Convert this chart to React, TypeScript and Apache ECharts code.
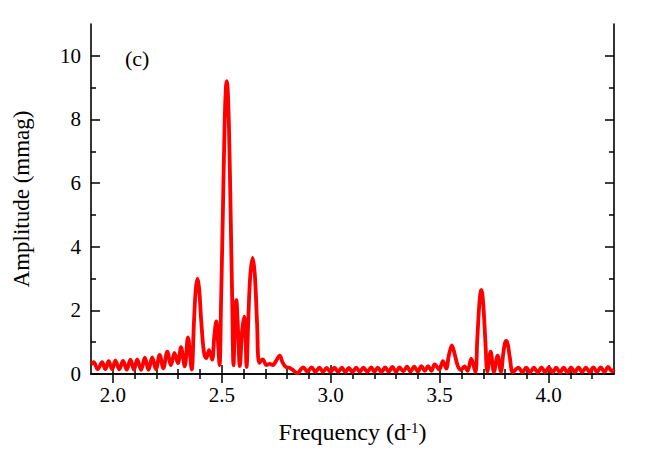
import React, { useEffect, useRef } from "react";
import * as echarts from "echarts";

const frequency = [
  1.900, 1.912, 1.931, 1.951, 1.966, 1.981, 1.997, 2.012, 2.030, 2.047, 2.064, 2.081, 2.097, 2.112, 2.130, 2.147,
  2.164, 2.181, 2.198, 2.215, 2.232, 2.250, 2.267, 2.283, 2.299, 2.313, 2.330, 2.345, 2.362, 2.372, 2.380, 2.388,
  2.396, 2.406, 2.418, 2.429, 2.442, 2.456, 2.466, 2.475, 2.482, 2.490, 2.497, 2.505, 2.513, 2.519, 2.523, 2.527,
  2.533, 2.541, 2.548, 2.554, 2.561, 2.567, 2.574, 2.583, 2.593, 2.603, 2.609, 2.614, 2.622, 2.631, 2.642, 2.652,
  2.662, 2.672, 2.688, 2.705, 2.720, 2.735, 2.750, 2.766, 2.780, 2.794, 2.810, 2.826, 2.846, 2.874, 2.893, 2.912,
  2.930, 2.948, 2.965, 2.981, 2.999, 3.017, 3.034, 3.051, 3.067, 3.083, 3.100, 3.117, 3.133, 3.150, 3.168, 3.186,
  3.201, 3.216, 3.233, 3.250, 3.266, 3.283, 3.300, 3.316, 3.333, 3.350, 3.366, 3.383, 3.400, 3.416, 3.432, 3.447,
  3.462, 3.477, 3.498, 3.515, 3.530, 3.542, 3.556, 3.569, 3.584, 3.598, 3.614, 3.628, 3.645, 3.664, 3.672, 3.680,
  3.686, 3.691, 3.696, 3.702, 3.710, 3.719, 3.734, 3.749, 3.766, 3.781, 3.792, 3.800, 3.806, 3.813, 3.822, 3.836,
  3.862, 3.880, 3.897, 3.915, 3.932, 3.950, 3.967, 3.984, 4.001, 4.018, 4.035, 4.052, 4.069, 4.086, 4.103, 4.120,
  4.137, 4.154, 4.171, 4.188, 4.205, 4.222, 4.239, 4.256, 4.273, 4.290, 4.300,
];

const amplitude = [
  0.30, 0.37, 0.15, 0.37, 0.15, 0.40, 0.15, 0.42, 0.15, 0.41, 0.14, 0.45, 0.14, 0.46, 0.13, 0.51,
  0.13, 0.52, 0.15, 0.60, 0.18, 0.70, 0.28, 0.66, 0.34, 0.84, 0.24, 1.15, 0.14, 1.55, 2.60, 3.00,
  2.70, 1.65, 0.70, 0.50, 0.75, 0.45, 1.20, 1.65, 1.10, 0.28, 2.30, 5.00, 7.80, 9.00, 9.20, 9.00,
  7.80, 5.00, 2.30, 0.28, 1.60, 2.32, 1.50, 0.25, 1.30, 1.80, 1.20, 0.22, 1.75, 3.10, 3.65, 3.10,
  1.60, 0.35, 0.46, 0.28, 0.32, 0.28, 0.42, 0.58, 0.35, 0.22, 0.20, 0.13, 0.03, 0.21, 0.07, 0.21,
  0.07, 0.20, 0.07, 0.19, 0.07, 0.20, 0.07, 0.20, 0.06, 0.19, 0.06, 0.20, 0.07, 0.20, 0.07, 0.21,
  0.07, 0.20, 0.06, 0.21, 0.07, 0.22, 0.07, 0.21, 0.08, 0.23, 0.08, 0.23, 0.08, 0.25, 0.10, 0.25,
  0.10, 0.30, 0.14, 0.40, 0.17, 0.58, 0.90, 0.62, 0.24, 0.13, 0.24, 0.10, 0.48, 0.06, 1.00, 2.00,
  2.50, 2.64, 2.50, 2.00, 1.00, 0.08, 0.70, 0.07, 0.58, 0.07, 0.65, 0.98, 1.04, 0.92, 0.52, 0.06,
  0.20, 0.05, 0.20, 0.05, 0.20, 0.05, 0.21, 0.05, 0.21, 0.05, 0.20, 0.05, 0.20, 0.05, 0.21, 0.05,
  0.21, 0.06, 0.20, 0.06, 0.21, 0.06, 0.21, 0.06, 0.22, 0.08, 0.15,
];

const xMajorTicks = [2.0, 2.5, 3.0, 3.5, 4.0];
const xMinorTicks = [2.1, 2.2, 2.3, 2.4, 2.6, 2.7, 2.8, 2.9, 3.1, 3.2, 3.3, 3.4, 3.6, 3.7, 3.8, 3.9, 4.1, 4.2];
const yMajorTicks = [0, 2, 4, 6, 8, 10];
const yMinorTicks = [1, 3, 5, 7, 9];

const X_MIN = 1.9;
const X_MAX = 4.3;
const Y_MIN = 0;
const Y_MAX = 11;
const panelLabel = "(c)";

const FONT = "'Liberation Serif', 'Times New Roman', serif";

export default function App() {
  const ref = useRef<HTMLDivElement>(null);

  useEffect(() => {
    document.body.style.margin = "0";
    if (!ref.current) return;
    const chart = echarts.init(ref.current, null, { renderer: "svg" });

    const axisLine = { show: true, lineStyle: { color: "#000", width: 1.6 } };
    const mkX = (pos: "top" | "bottom", major: boolean, withLabels: boolean, extra: any = {}) => ({
      type: "value",
      min: X_MIN,
      max: X_MAX,
      position: pos,
      gridIndex: 0,
      axisLine: major ? axisLine : { show: false },
      axisTick: {
        show: true,
        inside: true,
        length: major ? 9 : 5,
        lineStyle: { color: "#000", width: 1.5 },
        customValues: major ? xMajorTicks : xMinorTicks,
      },
      axisLabel: withLabels
        ? {
            show: true,
            customValues: xMajorTicks,
            formatter: (v: number) => v.toFixed(1),
            fontFamily: FONT,
            fontSize: 21,
            color: "#000",
            margin: 10,
          }
        : { show: false },
      splitLine: { show: false },
      ...extra,
    });
    const mkY = (pos: "left" | "right", major: boolean, withLabels: boolean, extra: any = {}) => ({
      type: "value",
      min: Y_MIN,
      max: Y_MAX,
      position: pos,
      gridIndex: 0,
      axisLine: major ? axisLine : { show: false },
      axisTick: {
        show: true,
        inside: true,
        length: major ? 9 : 5,
        lineStyle: { color: "#000", width: 1.5 },
        customValues: major ? yMajorTicks : yMinorTicks,
      },
      axisLabel: withLabels
        ? {
            show: true,
            customValues: yMajorTicks,
            formatter: (v: number) => String(v),
            fontFamily: FONT,
            fontSize: 21,
            color: "#000",
            margin: 10,
          }
        : { show: false },
      splitLine: { show: false },
      ...extra,
    });

    chart.setOption({
      animation: false,
      backgroundColor: "#fff",
      grid: { left: 91, right: 50, top: 24, bottom: 91, containLabel: false },
      xAxis: [
        mkX("bottom", true, true, {
          name: "Frequency (d{sup|-1})",
          nameLocation: "middle",
          nameGap: 46,
          nameTextStyle: {
            fontFamily: FONT,
            fontSize: 24,
            color: "#000",
            rich: {
              sup: { fontFamily: FONT, fontSize: 15, color: "#000", verticalAlign: "top", lineHeight: 15 },
            },
          },
        }),
        mkX("bottom", false, false),
        mkX("top", true, false),
        mkX("top", false, false),
      ],
      yAxis: [
        mkY("left", true, true, {
          name: "Amplitude (mmag)",
          nameLocation: "middle",
          nameGap: 58,
          nameTextStyle: { fontFamily: FONT, fontSize: 23, color: "#000" },
        }),
        mkY("left", false, false),
        mkY("right", true, false),
        mkY("right", false, false),
      ],
      graphic: [
        {
          type: "text",
          left: 125,
          top: 47,
          style: { text: panelLabel, font: `22px ${FONT}`, fill: "#000" },
        },
      ],
      series: [
        {
          type: "line",
          xAxisIndex: 0,
          yAxisIndex: 0,
          data: frequency.map((f, i) => [f, amplitude[i]]),
          showSymbol: false,
          smooth: 0.35,
          lineStyle: { color: "#ff0000", width: 3.8 },
          clip: true,
        },
      ],
    });

    return () => chart.dispose();
  }, []);

  return <div ref={ref} style={{ width: 664, height: 465 }} />;
}
